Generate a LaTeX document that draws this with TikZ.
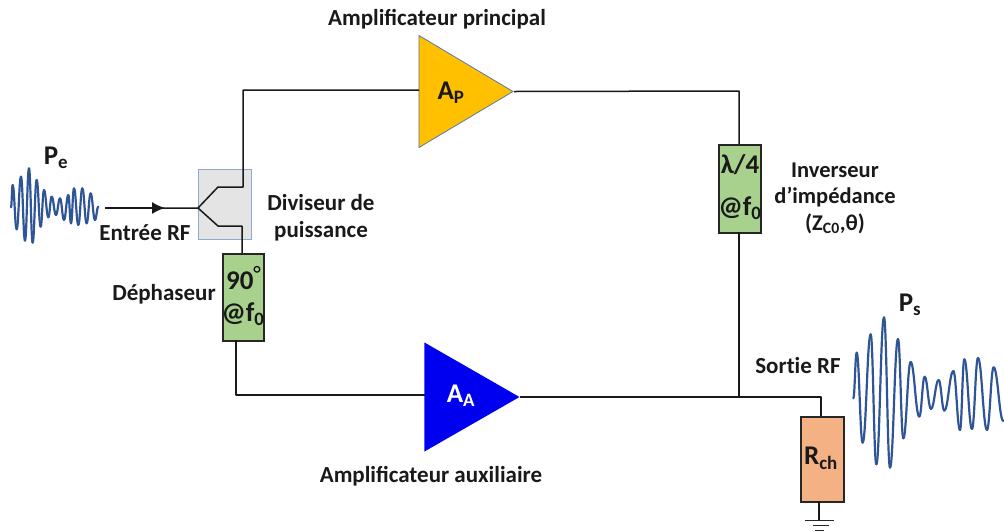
\documentclass[tikz,border=0pt]{standalone}
\usepackage{fontspec}
\setmainfont{Carlito}
\usetikzlibrary{shapes.geometric,arrows.meta}
\definecolor{wave}{HTML}{2F5597}
\definecolor{green1}{HTML}{A9D18E}
\definecolor{orange1}{HTML}{F4B183}
\definecolor{amp}{HTML}{FFC000}
\definecolor{aux}{HTML}{0000F0}
\definecolor{divfill}{HTML}{E4E4E4}
\definecolor{divline}{HTML}{8FAAD0}
\tikzset{
  wire/.style={draw=black!90,line width=1.5pt,line join=round},
  wavepath/.style={draw=wave,line width=2.2pt,line cap=round,line join=round},
  blockbox/.style={draw=black!85,line width=1.5pt,inner sep=0pt,anchor=north west,align=center},
  amptri/.style={isosceles triangle,isosceles triangle stretches,inner sep=0pt,anchor=apex,shape border rotate=0},
  lbl/.style={inner sep=0pt,align=center,font=\fontsize{23}{26}\selectfont\bfseries,text=black!90},
  big/.style={inner sep=0pt,align=center,font=\fontsize{27}{32}\selectfont\bfseries,text=black!90}
}
\newcommand{\wavecurve}[3]{%
  \foreach \x/\y [remember=\x as \lx (initially #1), remember=\y as \ly (initially #2)] in {#3} {
    \draw[wavepath] (\lx,\ly) .. controls ({\lx+.42*(\x-\lx)},\ly) and ({\x-.42*(\x-\lx)},\y) .. (\x,\y);
  }}
\begin{document}
\begin{tikzpicture}[x=1pt,y=-1pt]
\useasboundingbox (0,0) rectangle (1004,531);
% divider
\node[draw=divline,fill=divfill,line width=1pt,minimum width=53pt,minimum height=70pt,inner sep=0pt,anchor=north west] (div) at (198,169) {};
% blocks
\node[blockbox,fill=green1,minimum width=41pt,minimum height=87pt] (dep) at (222,253) {};
\node[blockbox,fill=green1,minimum width=42pt,minimum height=88pt] (inv) at (718,144) {};
\node[blockbox,fill=orange1,minimum width=43pt,minimum height=85pt] (rch) at (800,416) {};
\node[amptri,fill=amp,draw=wave!80,line width=.8pt,minimum height=94pt,minimum width=112pt] (ap) at (514,91.5) {};
\node[amptri,fill=aux,minimum height=95pt,minimum width=109pt] (aa) at (520,397) {};
% coordinates
\coordinate (in) at (105,208);
\coordinate (tip) at (165,208);
\coordinate (split) at (198,208);
\coordinate (u1) at (218,187);
\coordinate (u2) at (243,187);
\coordinate (u3) at (243,90);
\coordinate (u4) at (419,90);
\coordinate (d1) at (218,226);
\coordinate (d2) at (242,226);
\coordinate (d3) at (242,253);
\coordinate (dd1) at (236,340);
\coordinate (dd2) at (236,395);
\coordinate (dd3) at (425,395);
\coordinate (r1) at (739,91);
\coordinate (r2) at (739,144);
\coordinate (r3) at (739,232);
\coordinate (r4) at (739,397);
\coordinate (o1) at (821,397);
\coordinate (o2) at (821,416);
\coordinate (g0) at (819,501);
\coordinate (g1) at (819,520);
% wires
\draw[wire] (in) -- (split) -- (u1) -- (u2) -- (u3) -- (u4);
\draw[wire,-{Latex[length=13pt,width=12pt]}] (in) -- (tip);
\draw[wire] (split) -- (d1) -- (d2) -- (d3);
\draw[wire] (dd1) -- (dd2) -- (dd3);
\draw[wire] (ap.apex) -- (r1) -- (r2);
\draw[wire] (r3) -- (r4);
\draw[wire] (aa.apex) -- (o1) -- (o2);
\draw[wire] (g0) -- (g1);
\draw[line width=1.1pt,draw=black!85] (805,520.5) -- (834,520.5) (813,525.5) -- (829,525.5) (815,530.5) -- (824,530.5);
% waves
\begin{scope}[shift={(0,130)},x=.3333pt,y=-.3333pt]
\wavecurve{33}{232}{38/165,50/298,63/140,75/332,87/115,98/338,110/150,122/290,132/180,145/262,155/200,168/255,180/205,192/270,205/195,213/280,222/175,235/285,247/175,260/280,272/190,285/270,295/230}
\end{scope}
\begin{scope}[shift={(840,290)},x=.3333pt,y=-.3333pt]
\wavecurve{40}{325}{50/188,68/458,92/133,109/523,132/82,150/533,174/147,190/445,212/216,238/380,254/260,273/357,296/270,313/362,340/243,360/420,373/208,396/417,414/204,441/420,461/232,490/393}
\end{scope}
% labels
\node[big] (lap) at (451,93) {A\textsubscript{P}};
\node[big,text=white] (laa) at (461,396) {A\textsubscript{A}};
\node[big] (lpe) at (56,158) {P\textsubscript{e}};
\node[big] (lps) at (910,305) {P\textsubscript{s}};
\node[big] (lrch) at (821,458) {R\textsubscript{ch}};
\node[big,anchor=west] (l90) at (226,281) {90};
\node[inner sep=0pt,font=\fontsize{22}{22}\selectfont] (ldeg) at (257,274) {°};
\node[big] (lf1) at (243,314) {@f\textsubscript{0}};
\node[big] (l4) at (740,165) {λ/4};
\node[big] (lf2) at (740,208) {@f\textsubscript{0}};
\node[lbl] (t1) at (437,19) {Amplificateur principal};
\node[lbl] (t2) at (431,476) {Amplificateur auxiliaire};
\node[lbl] (t3) at (145,233) {Entrée RF};
\node[lbl] (t4) at (321,218) {Diviseur de\\[1pt]puissance};
\node[lbl] (t5) at (164,294) {Déphaseur};
\node[lbl,font=\fontsize{22.5}{26}\selectfont\bfseries] (t6) at (835,198) {Inverseur\\[0pt]d’impédance\\[1pt](Z\textsubscript{C0},θ)};
\node[lbl] (t7) at (798,366) {Sort\kern0pt ie RF};
\end{tikzpicture}
\end{document}
